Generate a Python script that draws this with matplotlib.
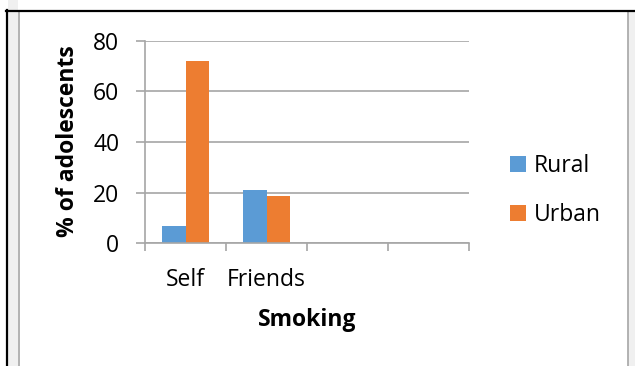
# bar chart of smoking among adolescents, rural vs urban (excel style)

import matplotlib
matplotlib.use("Agg")
import matplotlib.pyplot as plt
from matplotlib.patches import Rectangle
from matplotlib.lines import Line2D

categories = ["Self", "Friends", "", ""]
rural = [6.7, 21.0, 0, 0]
urban = [72.0, 18.7, 0, 0]
series_names = ["Rural", "Urban"]
y_ticks = [0, 20, 40, 60, 80]

W, H = 635, 366
plt.rcParams["font.family"] = ["Open Sans", "DejaVu Sans"]
fs = 16.5
grid_col = "#a6a6a6"

fig = plt.figure(figsize=(W / 100, H / 100), dpi=100)
fig.patch.set_facecolor("white")


def fx(px):
    return px / W


def fy(py):
    return 1 - py / H


# frame decoration around the chart (screenshot edges)
fig.add_artist(Rectangle((fx(8), 0), fx(10), 1, transform=fig.transFigure,
                         facecolor="#f0f0f0", edgecolor="none", zorder=0))
fig.add_artist(Rectangle((fx(628), 0), fx(7), fy(11), transform=fig.transFigure,
                         facecolor="#f0f0f0", edgecolor="none", zorder=0))
fig.add_artist(Line2D([fx(18.5), fx(18.5)], [0, fy(11)], transform=fig.transFigure,
                      color="#a6a6a6", lw=1.2))
fig.add_artist(Line2D([fx(627.5), fx(627.5)], [0, fy(11)], transform=fig.transFigure,
                      color="#a6a6a6", lw=1.2))
fig.add_artist(Line2D([fx(7), fx(7)], [0, fy(10)], transform=fig.transFigure,
                      color="black", lw=1.6))
fig.add_artist(Line2D([fx(6), 1], [fy(11), fy(11)], transform=fig.transFigure,
                      color="black", lw=1.6))

ax = fig.add_axes([fx(145), fy(243.3), fx(469) - fx(145), fy(40.7) - fy(243.3)])
ax.set_facecolor("none")

n = len(categories)
bw = 0.284
xs = [i + 0.5 for i in range(n)]
b1 = ax.bar([x - bw / 2 for x in xs], rural, width=bw, color="#5b9bd5", label=series_names[0])
b2 = ax.bar([x + bw / 2 for x in xs], urban, width=bw, color="#ed7d31", label=series_names[1])

ax.set_xlim(0, n)
ax.set_ylim(0, 80)
ax.set_yticks(y_ticks)
ax.set_yticklabels([str(t) for t in y_ticks], fontsize=fs)
ax.yaxis.grid(True, color=grid_col, lw=1.2)
ax.set_axisbelow(True)
ax.tick_params(axis="y", length=6.5, width=1.2, color=grid_col, pad=12)

ax.set_xticks(range(n + 1))
ax.set_xticklabels([])
ax.tick_params(axis="x", which="major", length=5.8, width=1.2, color=grid_col)
ax.set_xticks(xs, minor=True)
ax.set_xticklabels(categories, minor=True, fontsize=fs)
ax.tick_params(axis="x", which="minor", length=0, pad=18)

for s in ["top", "right"]:
    ax.spines[s].set_visible(False)
for s in ["left", "bottom"]:
    ax.spines[s].set_color(grid_col)
    ax.spines[s].set_linewidth(1.2)

fig.text(fx(307), fy(320), "Smoking", fontsize=fs, fontweight="bold", ha="center", va="center")
fig.text(fx(68), fy(141.5), "% of adolescents", fontsize=fs, fontweight="bold",
         rotation=90, ha="center", va="center")

fig.legend(handles=[b1, b2], loc="center left", bbox_to_anchor=(fx(510), fy(190.5)),
           frameon=False, fontsize=fs, handlelength=0.68, handleheight=0.68,
           handletextpad=0.35, labelspacing=1.1, borderpad=0, borderaxespad=0)

fig.savefig("out.png", dpi=100)
